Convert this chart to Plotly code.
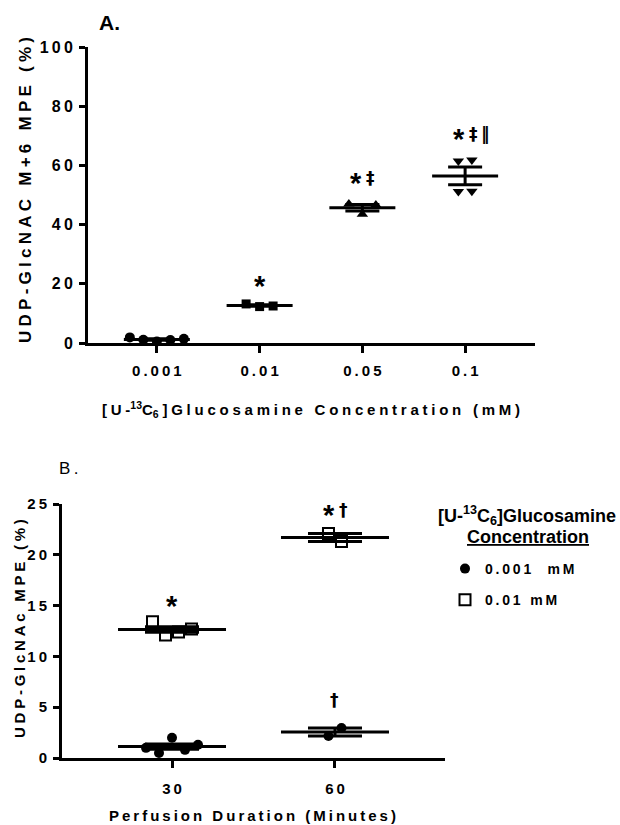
import numpy as np
import plotly.graph_objects as go

FONT = "Liberation Sans, Arial, sans-serif"
SP = "\u2009"
SP4 = "\u2005"

# ---------------- data: panel A ----------------
a_categories = ["0.001", "0.01", "0.05", "0.1"]
a_conc_0001 = [1.9, 1.1, 0.5, 1.0, 1.4]
a_conc_001 = [13.2, 12.3, 12.5]
a_conc_005 = [47.0, 43.5, 46.6]
a_conc_01 = [61.5, 61.8, 51.2, 51.3]
a_sig = ["", "*", "*‡", "*‡‖"]
a_yticks = [0, 20, 40, 60, 80, 100]

# ---------------- data: panel B ----------------
b_times = ["30", "60"]
b_low_30 = [1.0, 0.5, 2.0, 0.8, 1.3]
b_low_60 = [2.17, 2.95]
b_high_30 = [13.4, 12.1, 12.4, 12.7]
b_high_60 = [22.1, 21.3]
b_sig_low = ["", "†"]
b_sig_high = ["*", "*†"]
b_yticks = [0, 5, 10, 15, 20, 25]
b_series_names = ["0.001\u00a0 mM", "0.01 mM"]

# ---------------- geometry ----------------
W, H = 620, 825
A_X = (88, 535)
A_Y = (47, 343)
A_XR = [-0.67, 3.68]
A_YR = [0, 100]
B_X = (62, 445)
B_Y = (504, 758)
B_XR = [-0.675, 1.675]
B_YR = [0, 25]


def spaced(s, sep=SP):
    return sep.join(s)


def px_per_unit(px_span, rng):
    return (px_span[1] - px_span[0]) / (rng[1] - rng[0])


def jitter(vals, center, step_px, xscale, yscale, thresh=10):
    n = len(vals)
    order = sorted(range(n), key=lambda i: -vals[i])
    rows = []
    for i in order:
        if rows and (vals[rows[-1][-1]] - vals[i]) * yscale < thresh:
            rows[-1].append(i)
        else:
            rows.append([i])
    xs = [center] * n
    for row in rows:
        row = sorted(row)
        m = len(row)
        for k, i in enumerate(row):
            xs[i] = center + (k - (m - 1) / 2) * step_px / xscale
    return xs


def sem(v):
    v = np.asarray(v, float)
    return float(v.std(ddof=1) / np.sqrt(len(v)))


fig = go.Figure()

# ---------- panel A ----------
ax_s = px_per_unit(A_X, A_XR)
ay_s = (A_Y[1] - A_Y[0]) / (A_YR[1] - A_YR[0])
a_groups = [a_conc_0001, a_conc_001, a_conc_005, a_conc_01]
a_symbols = ["circle", "square", "triangle-up", "triangle-down"]
a_sizes = [10, 9, 10, 10]
for i, vals in enumerate(a_groups):
    xs = jitter(vals, i, 13.5, ax_s, ay_s)
    m = float(np.mean(vals))
    fig.add_trace(go.Scatter(x=[i - 33 / ax_s, i + 33 / ax_s], y=[m, m], mode="lines",
                             line=dict(color="black", width=3), showlegend=False,
                             xaxis="x", yaxis="y", hoverinfo="skip", cliponaxis=False))
    fig.add_trace(go.Scatter(x=xs, y=vals, mode="markers",
                             marker=dict(symbol=a_symbols[i], size=a_sizes[i], color="black"),
                             showlegend=False, xaxis="x", yaxis="y", cliponaxis=False))
    fig.add_trace(go.Scatter(x=[i], y=[m], mode="markers", marker=dict(size=1, opacity=0),
                             error_y=dict(type="data", array=[sem(vals)], color="black",
                                          thickness=3, width=17),
                             showlegend=False, xaxis="x", yaxis="y", hoverinfo="skip",
                             cliponaxis=False))

# ---------- panel B ----------
bx_s = px_per_unit(B_X, B_XR)
by_s = (B_Y[1] - B_Y[0]) / (B_YR[1] - B_YR[0])
low_groups = [b_low_30, b_low_60]
high_groups = [b_high_30, b_high_60]
for groups, name, sym, msize, lw in [(low_groups, b_series_names[0], "circle", 10, 0),
                                      (high_groups, b_series_names[1], "square-open", 11, 2)]:
    xs_all, ys_all = [], []
    for t, vals in enumerate(groups):
        xs_all += jitter(vals, t, 13, bx_s, by_s)
        ys_all += vals
        m = float(np.mean(vals))
        fig.add_trace(go.Scatter(x=[t - 54 / bx_s, t + 54 / bx_s], y=[m, m], mode="lines",
                                 line=dict(color="black", width=3), showlegend=False,
                                 xaxis="x2", yaxis="y2", hoverinfo="skip", cliponaxis=False))
        fig.add_trace(go.Scatter(x=[t], y=[m], mode="markers", marker=dict(size=1, opacity=0),
                                 error_y=dict(type="data", array=[sem(vals)], color="black",
                                              thickness=3, width=27),
                                 showlegend=False, xaxis="x2", yaxis="y2", hoverinfo="skip",
                                 cliponaxis=False))
    fig.add_trace(go.Scatter(x=xs_all, y=ys_all, mode="markers", name=spaced(name),
                             legendgroup=name,
                             marker=dict(symbol=sym, size=msize, color="black",
                                         line=dict(color="black", width=lw)),
                             xaxis="x2", yaxis="y2", cliponaxis=False))

annotations = []


def sig_anns(s, x, y, xref, yref, lift):
    """asterisk and dagger marks placed as separate texts above a group"""
    out = []
    star = s.startswith("*")
    rest = s[1:] if star else s
    if star:
        out.append(dict(x=x, y=y, xref=xref, yref=yref, text="*", showarrow=False,
                        xanchor="center" if not rest else "right",
                        xshift=0 if not rest else 2,
                        yanchor="middle", yshift=lift - 7,
                        font=dict(family=FONT, size=29, color="black", weight="bold")))
    if rest:
        out.append(dict(x=x, y=y, xref=xref, yref=yref, text=SP.join(rest), showarrow=False,
                        xanchor="left" if star else "center",
                        xshift=2 if star else 0,
                        yanchor="middle", yshift=lift - 2 if star else lift + 1,
                        font=dict(family="DejaVu Sans, " + FONT, size=17, color="black",
                                  weight="bold")))
    return out


for i, (vals, s) in enumerate(zip(a_groups, a_sig)):
    if s:
        annotations += sig_anns(s, i, max(vals), "x", "y", 25 if len(s) == 1 else 28)
for groups, sigs in [(low_groups, b_sig_low), (high_groups, b_sig_high)]:
    for t, (vals, s) in enumerate(zip(groups, sigs)):
        if s:
            annotations += sig_anns(s, t, max(vals), "x2", "y2",
                                    (23 if len(s) == 1 else 25) if s[0] == "*" else 27)


def px2paper(x, y):
    return x / W, 1 - y / H


def text_ann(text, x, y, size, weight="bold", angle=0):
    px, py = px2paper(x, y)
    return dict(text=text, x=px, y=py, xref="paper", yref="paper", showarrow=False,
                xanchor="center", yanchor="middle", textangle=angle,
                font=dict(family=FONT, size=size, color="black", weight=weight))


annotations += [
    text_ann("A.", 109, 23, 21),
    text_ann(spaced("UDP-GlcNAC M+6 MPE (%)", SP4), 25, 190, 17, angle=-90),
    text_ann(spaced("[U-", SP4) + "<sup>13</sup>" + spaced("C", SP4) + "<sub>6</sub>" + SP4
             + spaced("]Glucosamine Concentration (mM)", SP4), 311, 409, 15),
    text_ann("B" + SP + ".", 68, 468, 17, weight="normal"),
    text_ann(spaced("UDP-GlcNAc MPE (%)", SP4), 19, 629, 15, angle=-90),
    text_ann(spaced("Perfusion Duration (Minutes)"), 252, 815, 15),
    text_ann("[U-<sup>13</sup>C<sub>6</sub>]Glucosamine", 527, 515, 18),
    text_ann("<u>Concentration</u>", 528, 537, 18),
]

axis_common = dict(showline=True, linewidth=3, linecolor="black", showgrid=False,
                   zeroline=False, ticks="outside", tickwidth=3, tickcolor="black",
                   tickfont=dict(family=FONT, size=15, color="black", weight="bold"),
                   fixedrange=True)

fig.update_layout(
    width=W, height=H, autosize=False,
    margin=dict(l=0, r=0, t=0, b=0, autoexpand=False),
    paper_bgcolor="white", plot_bgcolor="white",
    xaxis=dict(axis_common, domain=[A_X[0] / W, A_X[1] / W], range=A_XR, anchor="y",
               tickvals=list(range(len(a_categories))),
               ticktext=[spaced(c) for c in a_categories], ticklen=7,
               ticklabelstandoff=5),
    yaxis=dict(axis_common, domain=[1 - A_Y[1] / H, 1 - A_Y[0] / H], range=A_YR, anchor="x",
               tickvals=a_yticks, ticktext=[spaced(str(v)) for v in a_yticks], ticklen=6,
               tickfont=dict(family=FONT, size=16, color="black", weight="bold"),
               ticklabelstandoff=3),
    xaxis2=dict(axis_common, domain=[B_X[0] / W, B_X[1] / W], range=B_XR, anchor="y2",
                tickvals=list(range(len(b_times))),
                ticktext=[spaced(c) for c in b_times], ticklen=7, ticklabelstandoff=8),
    yaxis2=dict(axis_common, domain=[1 - B_Y[1] / H, 1 - B_Y[0] / H], range=B_YR, anchor="x2",
                tickvals=b_yticks, ticktext=[spaced(str(v)) for v in b_yticks], ticklen=6,
                ticklabelstandoff=3),
    legend=dict(x=445 / W, y=1 - 553 / H, xanchor="left", yanchor="top",
                font=dict(family=FONT, size=14, color="black", weight="bold"),
                tracegroupgap=10, itemwidth=30, bgcolor="rgba(0,0,0,0)", borderwidth=0),
    annotations=annotations,
    showlegend=True,
)

fig.write_html("out.html")
